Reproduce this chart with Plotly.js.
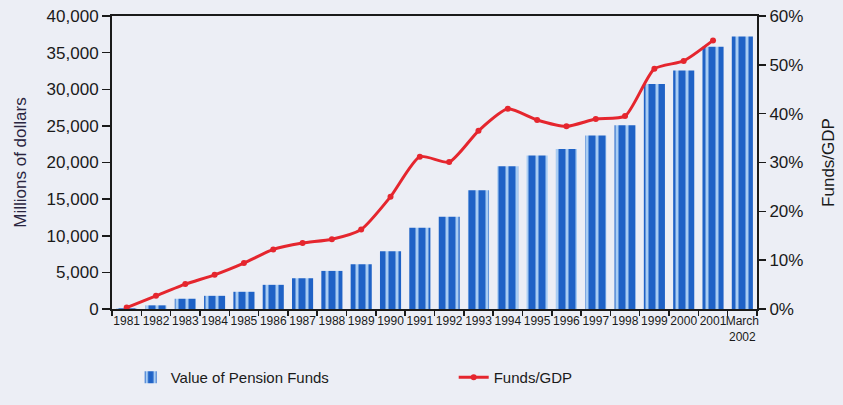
<!DOCTYPE html>
<html>
<head>
<meta charset="utf-8">
<script src="https://cdn.plot.ly/plotly-3.0.1.min.js"></script>
<style>
html,body{margin:0;padding:0;background:#eceef5;}
#chart{width:843px;height:405px;}
</style>
</head>
<body>
<div id="chart"></div>
<script>
const categories = ["1981","1982","1983","1984","1985","1986","1987","1988","1989","1990","1991","1992","1993","1994","1995","1996","1997","1998","1999","2000","2001","March 2002"];
const tickLabels = ["1981","1982","1983","1984","1985","1986","1987","1988","1989","1990","1991","1992","1993","1994","1995","1996","1997","1998","1999","2000","2001","March<br>2002"];
const pensionFunds = [100, 500, 1400, 1800, 2350, 3300, 4200, 5200, 6100, 7900, 11100, 12600, 16200, 19500, 20950, 21850, 23700, 25100, 30700, 32550, 35800, 37200];
const lineYears = ["1981","1982","1983","1984","1985","1986","1987","1988","1989","1990","1991","1992","1993","1994","1995","1996","1997","1998","1999","2000","2001"];
const fundsGDP = [0.3, 2.7, 5.1, 7.0, 9.4, 12.2, 13.5, 14.3, 16.3, 23.0, 31.2, 30.1, 36.5, 41.0, 38.7, 37.4, 38.9, 39.5, 49.2, 50.8, 55.0];

const FONT = '"Liberation Sans", Arial, sans-serif';

const traces = [
  {
    type: 'bar',
    name: 'Value of Pension Funds',
    x: categories,
    y: pensionFunds,
    marker: {
      color: '#1f62c6',
      line: {width: 0},
      pattern: {shape: '|', fgcolor: '#a9cdf3', bgcolor: '#1f62c6', size: 10, solidity: 0.3}
    },
    yaxis: 'y',
    hoverinfo: 'x+y'
  },
  {
    type: 'scatter',
    mode: 'lines+markers',
    name: 'Funds/GDP',
    x: lineYears,
    y: fundsGDP,
    yaxis: 'y2',
    line: {color: '#e5262e', width: 3, shape: 'spline', smoothing: 0.6},
    marker: {color: '#e5262e', size: 6, symbol: 'circle'}
  }
];

const layout = {
  width: 843,
  height: 405,
  paper_bgcolor: '#eceef5',
  plot_bgcolor: '#eceef5',
  margin: {l: 112, r: 86, t: 16, b: 95},
  font: {family: FONT, color: '#1a1a1a', size: 14},
  bargap: 0.28,
  showlegend: true,
  legend: {
    orientation: 'h',
    x: 0.029, xanchor: 'left',
    y: -0.23, yanchor: 'middle',
    entrywidth: 278, entrywidthmode: 'pixels',
    font: {family: FONT, size: 15, color: '#1a1a1a'},
    bgcolor: 'rgba(0,0,0,0)',
    traceorder: 'normal'
  },
  xaxis: {
    type: 'category',
    tickvals: categories,
    ticktext: tickLabels,
    tickson: 'boundaries',
    ticks: 'outside',
    ticklen: 5,
    tickwidth: 1.5,
    tickcolor: '#1a1a1a',
    showline: true,
    linecolor: '#1a1a1a',
    linewidth: 2,
    mirror: true,
    showgrid: false,
    tickangle: 0,
    tickfont: {family: FONT, size: 12, color: '#1a1a1a'},
    range: [-0.5, 21.5]
  },
  yaxis: {
    range: [0, 40000],
    dtick: 5000,
    tickformat: ',',
    ticks: 'outside',
    ticklen: 8,
    tickwidth: 1.5,
    tickcolor: '#1a1a1a',
    showline: true,
    linecolor: '#1a1a1a',
    linewidth: 2,
    showgrid: false,
    zeroline: false,
    tickfont: {family: FONT, size: 17, color: '#1a1a1a'},
    title: {text: 'Millions of dollars', font: {family: FONT, size: 17, color: '#2a2540'}, standoff: 16}
  },
  yaxis2: {
    overlaying: 'y',
    side: 'right',
    range: [0, 60],
    dtick: 10,
    ticksuffix: '%',
    ticks: 'outside',
    ticklen: 7,
    tickwidth: 1.5,
    tickcolor: '#1a1a1a',
    showline: true,
    linecolor: '#1a1a1a',
    linewidth: 2,
    showgrid: false,
    zeroline: false,
    tickfont: {family: FONT, size: 17, color: '#1a1a1a'},
    title: {text: 'Funds/GDP', font: {family: FONT, size: 17, color: '#1a1a1a'}, standoff: 20}
  }
};

Plotly.newPlot('chart', traces, layout, {displayModeBar: false, staticPlot: true});
</script>
</body>
</html>
